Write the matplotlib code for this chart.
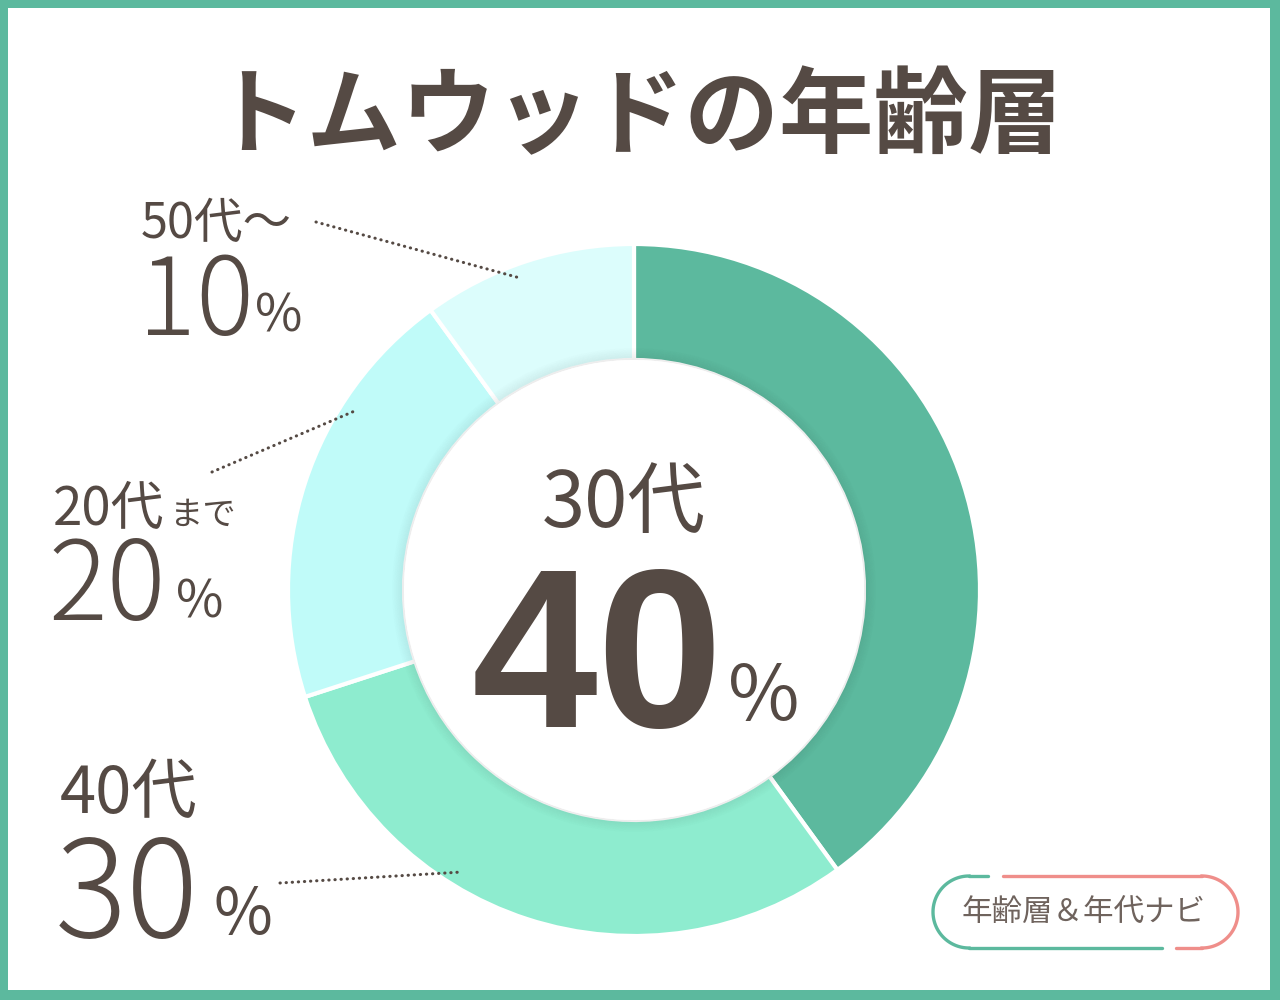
import matplotlib.pyplot as plt
import numpy as np
from matplotlib.patches import Rectangle, Circle, Wedge

plt.rcParams["font.family"] = ["Noto Sans CJK JP", "DejaVu Sans"]

# データ
categories = ["30代", "40代", "20代まで", "50代～"]
values = [40, 30, 20, 10]
colours = ["#5cb99e", "#8eeccf", "#c0fbf9", "#dcfdfc"]

title = "トムウッドの年齢層"
logo_text = "年齢層＆年代ナビ"

TEXT = "#554a44"
GREEN = "#5cb99e"
PINK = "#ef8e8a"

W, H = 1280, 1000
CX, CY = 634, 590
R_OUT, R_IN = 346, 230


def Y(py):
    # ピクセル座標(上から)を軸座標に変換
    return H - py


fig = plt.figure(figsize=(12.8, 10), dpi=100)
ax = fig.add_axes([0, 0, 1, 1])

# 枠
ax.add_patch(Rectangle((0, 0), W, H, facecolor=GREEN, edgecolor="none", zorder=0))
ax.add_patch(Rectangle((8, 10), W - 18, H - 18, facecolor="white", edgecolor="none", zorder=0))

# ドーナツ
wedges, _ = ax.pie(
    values,
    colors=colours,
    startangle=90,
    counterclock=False,
    radius=R_OUT,
    center=(CX, Y(CY)),
    wedgeprops=dict(width=R_OUT - R_IN, edgecolor="white", linewidth=3),
    frame=True,
)
ax.set_xlim(0, W)
ax.set_ylim(0, H)
ax.set_aspect("equal")
ax.axis("off")

# 内側の影
for i in range(12):
    ax.add_patch(Wedge((CX, Y(CY)), R_IN + 12 - i, 0, 360, width=1,
                       facecolor="black", alpha=0.006 * (i + 1), edgecolor="none", zorder=3))
ax.add_patch(Circle((CX, Y(CY)), R_IN, facecolor="white", edgecolor="none", zorder=4))

# タイトル
ax.text(638, Y(146), title, ha="center", va="baseline", fontsize=68,
        fontweight="bold", color=TEXT, zorder=5)

# 中央ラベル
ax.text(624, Y(527), categories[0], ha="center", va="baseline", fontsize=56,
        color=TEXT, zorder=5)
ax.text(472, Y(727), f"{values[0]}", ha="left", va="baseline", fontsize=163,
        fontweight="bold", family=["Liberation Sans", "DejaVu Sans"], color=TEXT, zorder=5)
ax.text(728, Y(720), "%", ha="left", va="baseline", fontsize=56, color=TEXT, zorder=5)

# 外側ラベル: (名前x, 名前baseline, 名前サイズ, 値x, 値baseline, 値サイズ, %x, %サイズ)
label_layout = {
    "50代～": (141, 238, 35, 138, 335, 78, 255, 37),
    "20代まで": (53, 525, 38, 48, 620, 79, 176, 37),
    "40代": (60, 813, 47, 55, 937, 97, 213, 46),
}
for cat, val in zip(categories[1:], values[1:]):
    nx, nb, ns, vx, vb, vs, px, ps = label_layout[cat]
    if cat == "20代まで":
        ax.text(nx, Y(nb), cat[:3], ha="left", va="baseline", fontsize=ns,
                color=TEXT, zorder=5)
        ax.text(170, Y(nb), cat[3:], ha="left", va="baseline", fontsize=24,
                color=TEXT, zorder=5)
    else:
        ax.text(nx, Y(nb), cat, ha="left", va="baseline", fontsize=ns,
                color=TEXT, zorder=5)
    ax.text(vx, Y(vb), f"{val}", ha="left", va="baseline", fontsize=vs,
            fontweight="light", color=TEXT, zorder=5)
    ax.text(px, Y(vb - 3), "%", ha="left", va="baseline", fontsize=ps,
            color=TEXT, zorder=5)

# 引き出し線
leaders = [((316, 222), (520, 278)), ((212, 472), (357, 410)), ((280, 883), (462, 872))]
for (x0, y0), (x1, y1) in leaders:
    ax.plot([x0, x1], [Y(y0), Y(y1)], color=TEXT, linewidth=2.2,
            linestyle=(0, (0.1, 1.9)), dash_capstyle="round", zorder=6)

# ロゴ
lx0, lx1, ly0, ly1 = 933, 1238, 876, 948
r = (ly1 - ly0) / 2
t = np.linspace(np.pi / 2, 3 * np.pi / 2, 60)
ax.plot(lx0 + r + r * np.cos(t), Y((ly0 + ly1) / 2) + r * np.sin(t), color=GREEN, lw=2.4, zorder=5)
ax.plot([lx0 + r, 988], [Y(ly0), Y(ly0)], color=GREEN, lw=2.4, solid_capstyle="round", zorder=5)
ax.plot([lx0 + r, 1162], [Y(ly1), Y(ly1)], color=GREEN, lw=2.4, solid_capstyle="round", zorder=5)
t = np.linspace(-np.pi / 2, np.pi / 2, 60)
ax.plot(lx1 - r + r * np.cos(t), Y((ly0 + ly1) / 2) + r * np.sin(t), color=PINK, lw=2.4, zorder=5)
ax.plot([1003, lx1 - r], [Y(ly0), Y(ly0)], color=PINK, lw=2.4, solid_capstyle="round", zorder=5)
ax.plot([1176, lx1 - r], [Y(ly1), Y(ly1)], color=PINK, lw=2.4, solid_capstyle="round", zorder=5)
ax.text((lx0 + lx1) / 2 - 2, Y(913), logo_text, ha="center", va="center", fontsize=22,
        color="#6f635d", zorder=5)

fig.savefig("out.png", dpi=100)
